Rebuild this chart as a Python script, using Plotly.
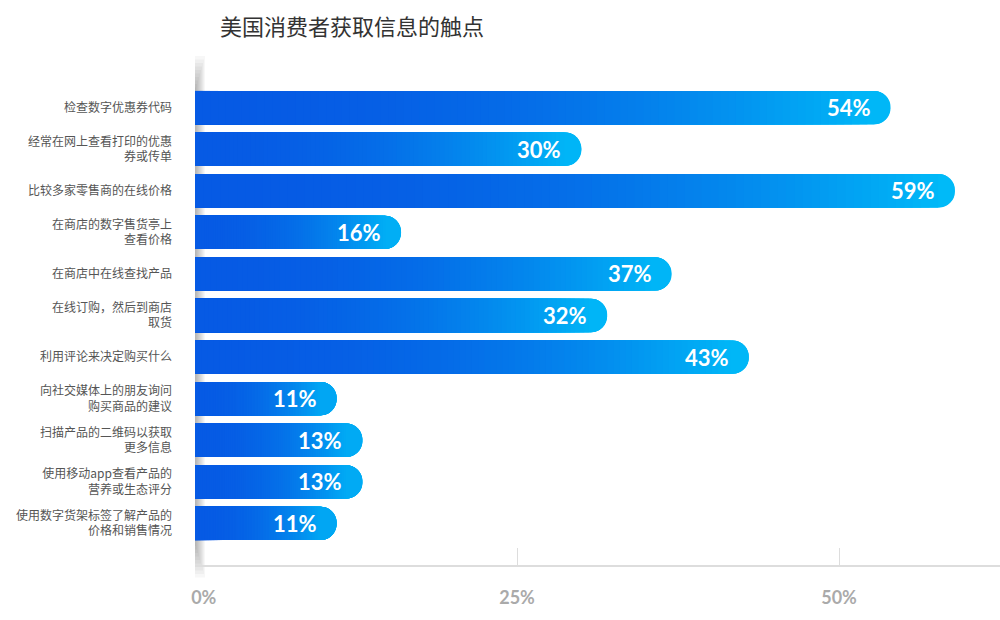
import plotly.graph_objects as go

title_text = "美国消费者获取信息的触点"
categories = [
    "检查数字优惠券代码",
    "经常在网上查看打印的优惠<br>券或传单",
    "比较多家零售商的在线价格",
    "在商店的数字售货亭上<br>查看价格",
    "在商店中在线查找产品",
    "在线订购，然后到商店<br>取货",
    "利用评论来决定购买什么",
    "向社交媒体上的朋友询问<br>购买商品的建议",
    "扫描产品的二维码以获取<br>更多信息",
    "使用移动app查看产品的<br>营养或生态评分",
    "使用数字货架标签了解产品的<br>价格和销售情况",
]
values = [54, 30, 59, 16, 37, 32, 43, 11, 13, 13, 11]
value_labels = ["54%", "30%", "59%", "16%", "37%", "32%", "43%", "11%", "13%", "13%", "11%"]
x_tickvals = [0, 25, 50]
x_ticktext = ["\u00a0\u00a0\u00a0\u00a00%", "25%", "50%"]

C0 = (6, 90, 228)
C1 = (0, 188, 248)
N = 90


def mix(t):
    t = max(0.0, min(1.0, t)) ** 2.2
    r, g, b = (round(a + (c - a) * t) for a, c in zip(C0, C1))
    return f"rgb({r},{g},{b})"


fig = go.Figure()
for k in range(N):
    frac = 1 - k / N
    fig.add_trace(go.Bar(
        x=[v * frac for v in values],
        y=categories,
        orientation="h",
        width=0.8,
        marker=dict(color=mix(frac), line=dict(width=0), cornerradius="50%"),
        hoverinfo="skip",
        showlegend=False,
    ))

for cat, v, lab in zip(categories, values, value_labels):
    fig.add_annotation(
        x=v, y=cat, text=lab, showarrow=False, xanchor="right", yanchor="middle",
        xshift=-18, font=dict(family="Lato", size=22, color="white", weight="bold"),
    )

# soft shadow along the left edge of the plot panel
plot_w = 805.0
n_sh = 10
for i in range(n_sh):
    shrink = (n_sh - 1 - i) * 0.007
    fig.add_shape(
        type="rect", xref="paper", yref="paper", layer="below",
        x0=0, x1=(i + 1) / plot_w,
        y0=-0.025 + shrink, y1=1.02 - shrink,
        fillcolor="black", opacity=0.03, line=dict(width=0),
    )

fig.update_layout(
    width=1000, height=620,
    margin=dict(l=195, r=0, t=66, b=55),
    paper_bgcolor="white", plot_bgcolor="white",
    barmode="overlay",
    bargap=0.2,
    title=dict(text=title_text, x=0.22, xref="container", xanchor="left",
               y=1 - 27 / 620, yref="container", yanchor="middle",
               font=dict(family="Noto Sans CJK SC", size=22, color="#333333")),
    font=dict(family="Noto Sans CJK SC"),
)
fig.update_yaxes(
    range=[11, -1], showgrid=False, zeroline=False, showline=False, ticks="",
    tickfont=dict(family="Noto Sans CJK SC", size=12, color="#555555"),
    ticklabelstandoff=22,
)
fig.update_xaxes(
    range=[0, 62.5], tickvals=x_tickvals, ticktext=x_ticktext,
    showgrid=False, zeroline=False, showline=True, linecolor="#dddddd", linewidth=2,
    ticks="inside", ticklen=17, tickcolor="#dddddd", tickwidth=1,
    tickfont=dict(family="Lato", size=18, color="#aaaaaa", weight="bold"),
    ticklabelstandoff=15,
)

fig.write_html("out.html")
